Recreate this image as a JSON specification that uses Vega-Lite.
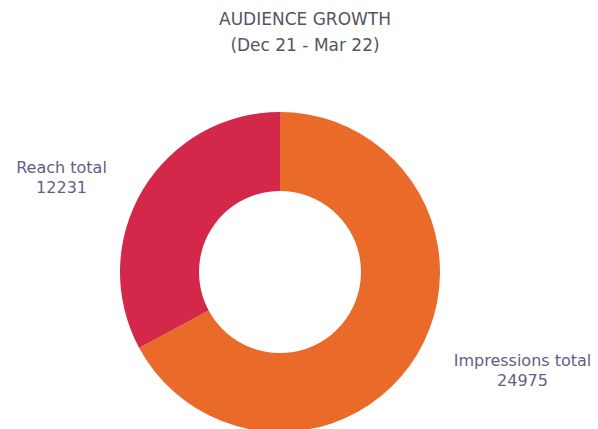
{
  "$schema": "https://vega.github.io/schema/vega-lite/v6.json",
  "width": 560,
  "height": 424,
  "padding": {"left": 0, "top": 11, "right": 0, "bottom": 0},
  "background": "white",
  "config": {"view": {"stroke": null}},
  "title": {
    "text": ["AUDIENCE GROWTH", "(Dec 21 - Mar 22)"],
    "anchor": "middle",
    "dx": 25,
    "offset": 5,
    "font": "DejaVu Sans",
    "fontSize": 17,
    "fontWeight": "normal",
    "lineHeight": 26,
    "color": "#55555f"
  },
  "data": {
    "values": [
      {"category": "Impressions", "label": "Impressions total", "value": 24975},
      {"category": "Reach", "label": "Reach total", "value": 12231}
    ]
  },
  "transform": [
    {"calculate": "[datum.label, format(datum.value, 'd')]", "as": "lines"}
  ],
  "encoding": {
    "theta": {"field": "value", "type": "quantitative", "stack": true}
  },
  "layer": [
    {
      "mark": {"type": "arc", "outerRadius": 160, "innerRadius": 81},
      "encoding": {
        "color": {
          "field": "category",
          "type": "nominal",
          "scale": {"domain": ["Impressions", "Reach"], "range": ["#EA6A2A", "#D3284A"]},
          "legend": null
        }
      }
    },
    {
      "mark": {"type": "text", "radius": 238, "thetaOffset": -0.13, "dy": -10, "font": "DejaVu Sans", "fontSize": 16, "lineHeight": 20, "color": "#5f5f85", "baseline": "middle"},
      "encoding": {
        "detail": {"field": "category", "type": "nominal"},
        "text": {"condition": {"test": "datum.category === 'Reach'", "field": "lines"}, "value": ""}
      }
    },
    {
      "mark": {"type": "text", "radius": 262, "thetaOffset": -0.15, "dy": -10, "font": "DejaVu Sans", "fontSize": 16, "lineHeight": 20, "color": "#5f5f85", "baseline": "middle"},
      "encoding": {
        "detail": {"field": "category", "type": "nominal"},
        "text": {"condition": {"test": "datum.category === 'Impressions'", "field": "lines"}, "value": ""}
      }
    }
  ]
}
